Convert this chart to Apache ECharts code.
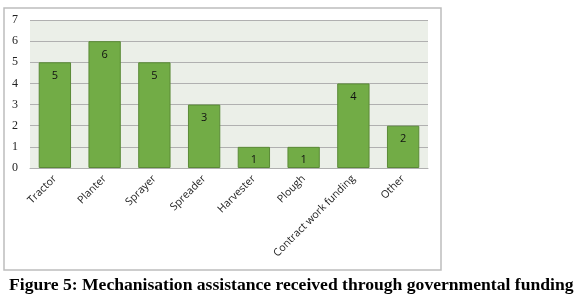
<!DOCTYPE html>
<html><head><meta charset="utf-8">
<script src="https://cdn.jsdelivr.net/npm/echarts@6/dist/echarts.min.js"></script>
<style>html,body{margin:0;padding:0;background:#fff}#c{width:580px;height:294px}</style>
</head><body><div id="c"></div>
<script>
var categories = ['Tractor','Planter','Sprayer','Spreader','Harvester','Plough','Contract work funding','Other'];
var values = [5,6,5,3,1,1,4,2];
var yTicks = [0,1,2,3,4,5,6,7];
var titleText = 'Figure 5: Mechanisation assistance received through governmental funding';

var chart = echarts.init(document.getElementById('c'), null, {renderer:'canvas'});
chart.setOption({
  animation:false,
  title:{text:titleText,left:4,top:271,textStyle:{fontFamily:'Liberation Serif',fontWeight:'bold',fontSize:17.6,color:'#000'}},
  graphic:[{type:'rect',shape:{x:4,y:8,width:437,height:262},style:{fill:'none',stroke:'#bdbdbd',lineWidth:1.5},z:-10}],
  grid:{left:30,right:152,top:20,bottom:126,show:true,backgroundColor:'#ebefe8',borderWidth:0},
  xAxis:{type:'category',data:categories,
    axisLine:{show:true,lineStyle:{color:'#b0b0b0'}},axisTick:{show:false},
    axisLabel:{interval:0,rotate:45,fontFamily:'Open Sans',fontSize:10.6,color:'#222',margin:9}},
  yAxis:{type:'value',min:0,max:7,interval:1,
    axisLabel:{fontFamily:'Liberation Serif',fontSize:12,color:'#222',margin:12,
      formatter:function(v){return yTicks.indexOf(v)>=0?String(v):'';}},
    axisLine:{show:false},axisTick:{show:false},
    splitLine:{lineStyle:{color:'#b0b0b0',width:1}}},
  series:[{type:'bar',data:values,barCategoryGap:'35%',
    itemStyle:{color:'#72ac46',borderColor:'#5a8a36',borderWidth:1},
    label:{show:true,position:'insideTop',distance:8,fontFamily:'Open Sans',fontSize:11,color:'#111'}}]
});
</script></body></html>
